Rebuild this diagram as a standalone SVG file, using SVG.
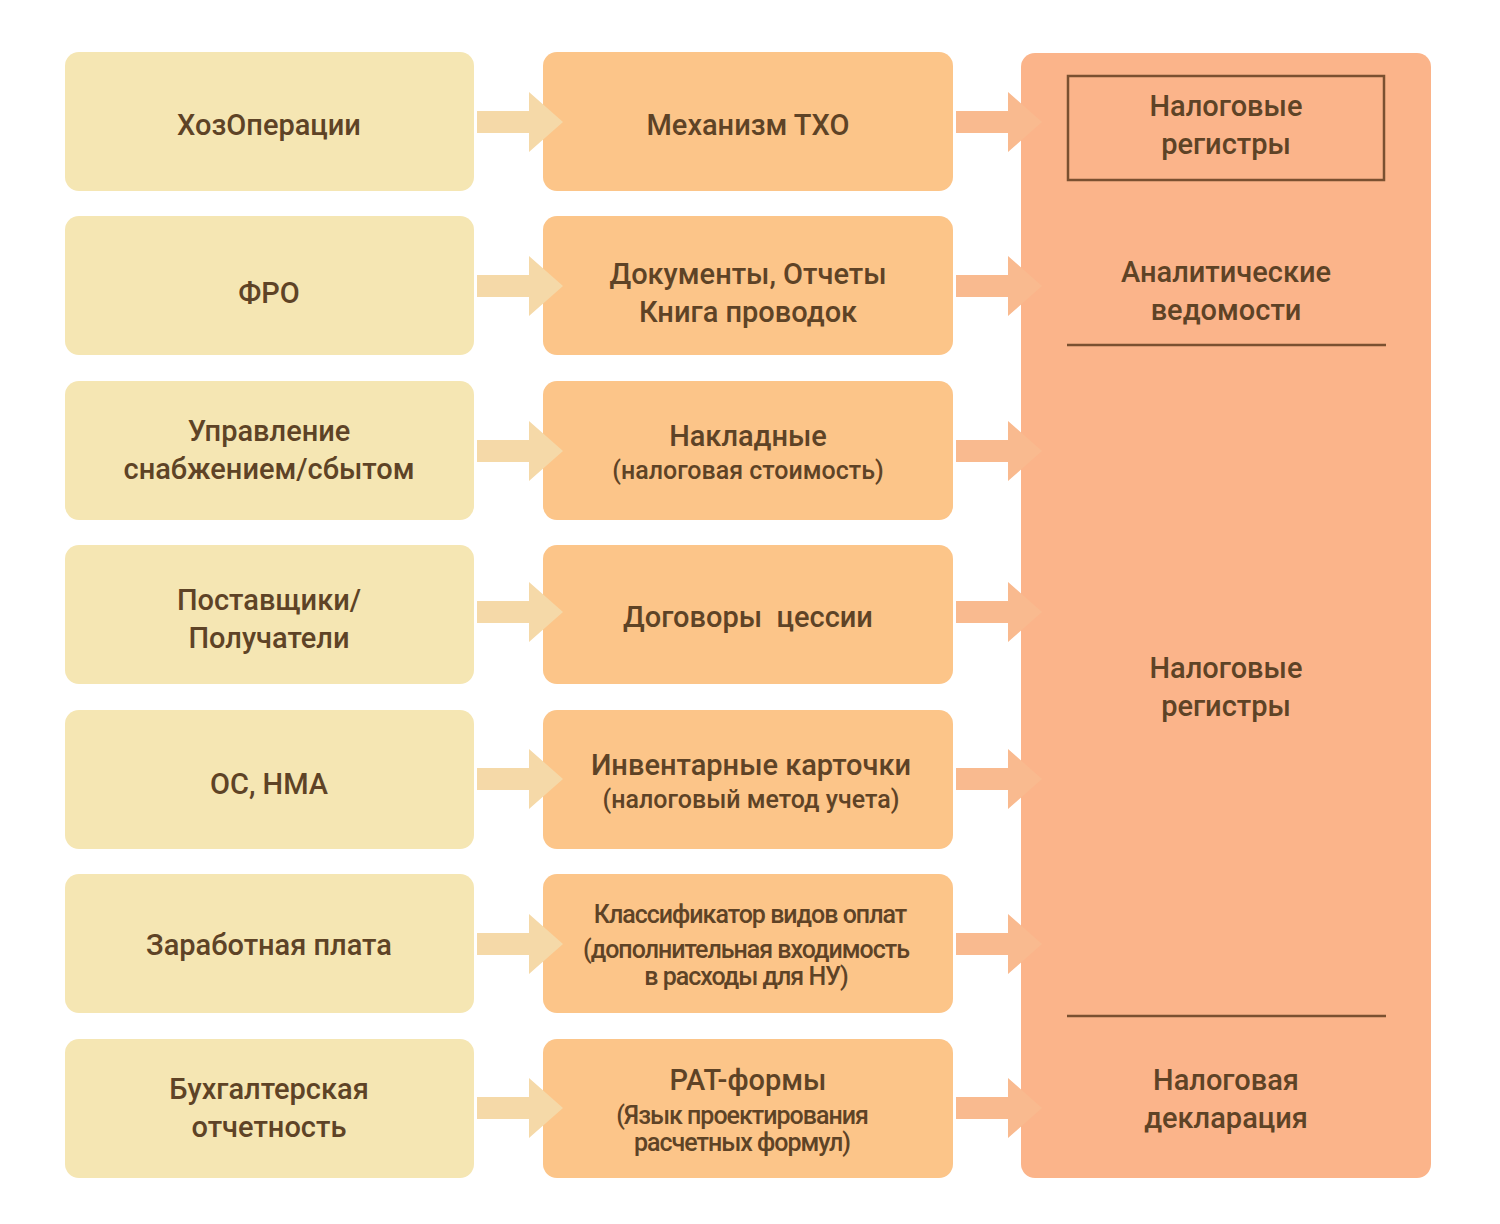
<svg xmlns="http://www.w3.org/2000/svg" width="1500" height="1224" viewBox="0 0 1500 1224">
<defs>
<style>
.a{fill:#F5E6B3}.b{fill:#FCC589}.c{fill:#FBB48A}
text{font-family:Roboto,"Liberation Sans",sans-serif;font-weight:500;fill:#5E4326;text-anchor:middle}
.t{font-size:29px}.s{font-size:25px}.n{font-size:25px;letter-spacing:-1px}
.ar1{fill:#F5D9A8}.ar2{fill:#F9BA8F}
</style>
<path id="arr" d="M0,-11 H52 V-30 L86,0 L52,30 V11 H0 Z"/>
</defs>
<rect width="1500" height="1224" fill="#fff"/>
<g id="right"><rect class="c" x="1021" y="53" width="410" height="1125" rx="14"/>
<rect x="1068" y="76" width="316" height="104" fill="none" stroke="#7A5030" stroke-width="2.5"/>
<text class="t" x="1226" y="116">Налоговые</text><text class="t" x="1226" y="154">регистры</text>
<text class="t" x="1226" y="282">Аналитические</text><text class="t" x="1226" y="320">ведомости</text>
<line x1="1067" y1="345" x2="1386" y2="345" stroke="#7A5030" stroke-width="2.5"/>
<text class="t" x="1226" y="678">Налоговые</text><text class="t" x="1226" y="716">регистры</text>
<line x1="1067" y1="1016" x2="1386" y2="1016" stroke="#7A5030" stroke-width="2.5"/>
<text class="t" x="1226" y="1090">Налоговая</text><text class="t" x="1226" y="1128">декларация</text></g>
<g id="r1"><rect class="a" x="65" y="52" width="409" height="139" rx="14"/><text class="t" x="269" y="135">ХозОперации</text>
<rect class="b" x="543" y="52" width="410" height="139" rx="14"/><text class="t" x="748" y="135">Механизм ТХО</text></g>
<g id="r2"><rect class="a" x="65" y="216" width="409" height="139" rx="14"/><text class="t" x="269" y="303">ФРО</text>
<rect class="b" x="543" y="216" width="410" height="139" rx="14"/><text class="t" x="748" y="284">Документы, Отчеты</text><text class="t" x="748" y="322">Книга проводок</text></g>
<g id="r3"><rect class="a" x="65" y="381" width="409" height="139" rx="14"/><text class="t" x="269" y="441">Управление</text><text class="t" x="269" y="479">снабжением/сбытом</text>
<rect class="b" x="543" y="381" width="410" height="139" rx="14"/><text class="t" x="748" y="446">Накладные</text><text class="s" x="748" y="479">(налоговая стоимость)</text></g>
<g id="r4"><rect class="a" x="65" y="545" width="409" height="139" rx="14"/><text class="t" x="269" y="610">Поставщики/</text><text class="t" x="269" y="648">Получатели</text>
<rect class="b" x="543" y="545" width="410" height="139" rx="14"/><text class="t" x="748" y="627" xml:space="preserve">Договоры  цессии</text></g>
<g id="r5"><rect class="a" x="65" y="710" width="409" height="139" rx="14"/><text class="t" x="269" y="794">ОС, НМА</text>
<rect class="b" x="543" y="710" width="410" height="139" rx="14"/><text class="t" x="751" y="775">Инвентарные карточки</text><text class="s" x="751" y="808">(налоговый метод учета)</text></g>
<g id="r6"><rect class="a" x="65" y="874" width="409" height="139" rx="14"/><text class="t" x="269" y="955">Заработная плата</text>
<rect class="b" x="543" y="874" width="410" height="139" rx="14"/><text class="n" x="750" y="923">Классификатор видов оплат</text><text class="n" x="746" y="958">(дополнительная входимость</text><text class="n" x="746" y="985">в расходы для НУ)</text></g>
<g id="r7"><rect class="a" x="65" y="1039" width="409" height="139" rx="14"/><text class="t" x="269" y="1099">Бухгалтерская</text><text class="t" x="269" y="1137">отчетность</text>
<rect class="b" x="543" y="1039" width="410" height="139" rx="14"/><text class="t" x="748" y="1090">РАТ-формы</text><text class="n" x="742" y="1124">(Язык проектирования</text><text class="n" x="742" y="1151">расчетных формул)</text></g>
<g id="connectors">
<use href="#arr" class="ar1" x="477" y="122"/><use href="#arr" class="ar2" x="956" y="122"/>
<use href="#arr" class="ar1" x="477" y="286"/><use href="#arr" class="ar2" x="956" y="286"/>
<use href="#arr" class="ar1" x="477" y="451"/><use href="#arr" class="ar2" x="956" y="451"/>
<use href="#arr" class="ar1" x="477" y="612"/><use href="#arr" class="ar2" x="956" y="612"/>
<use href="#arr" class="ar1" x="477" y="779"/><use href="#arr" class="ar2" x="956" y="779"/>
<use href="#arr" class="ar1" x="477" y="944"/><use href="#arr" class="ar2" x="956" y="944"/>
<use href="#arr" class="ar1" x="477" y="1108"/><use href="#arr" class="ar2" x="956" y="1108"/>
</g>
</svg>
